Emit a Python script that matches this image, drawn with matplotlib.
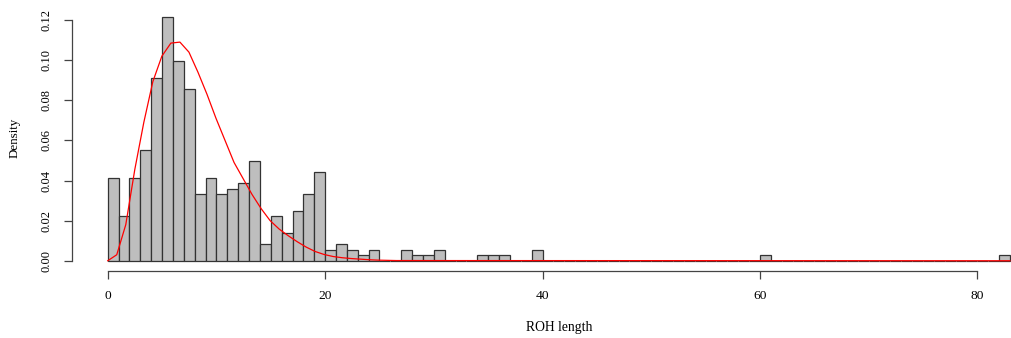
import matplotlib

matplotlib.use("Agg")

import matplotlib.pyplot as plt
import numpy as np
from matplotlib.ticker import FormatStrFormatter

plt.rcParams["font.family"] = ["Liberation Serif", "DejaVu Serif"]

# ROH length histogram: counts per 1-unit bin (left edge -> count), n = 362
bin_left = [0, 1, 2, 3, 4, 5, 6, 7, 8, 9, 10, 11, 12, 13, 14, 15, 16, 17, 18, 19,
            20, 21, 22, 23, 24, 27, 28, 29, 30, 34, 35, 36, 39, 60, 82]
counts = [15, 8, 15, 20, 33, 44, 36, 31, 12, 15, 12, 13, 14, 18, 3, 8, 5, 9, 12, 16,
          2, 3, 2, 1, 2, 2, 1, 1, 2, 1, 1, 1, 2, 1, 1]
bin_edges = np.arange(0, 84)

# fitted density curve
curve_x = [0, 0.83, 1.66, 2.49, 3.32, 4.15, 4.98, 5.81, 6.64, 7.47, 8.30, 9.13,
           9.96, 10.79, 11.62, 12.45, 13.28, 14.11, 14.94, 15.77, 16.60, 17.43,
           18.26, 19.09, 19.92, 20.75, 21.58, 22.41, 23.24, 24.07, 24.90, 25.73,
           26.56, 83]
curve_y = [0, 0.003, 0.018, 0.0455, 0.069, 0.0893, 0.102, 0.1085, 0.109, 0.104,
           0.094, 0.083, 0.071, 0.060, 0.049, 0.041, 0.033, 0.026, 0.020, 0.0158,
           0.0125, 0.0095, 0.0068, 0.0046, 0.0031, 0.0021, 0.0015, 0.0011, 0.0008,
           0.0005, 0.0003, 0.0002, 0.0001, 0]

x_ticks = [0, 20, 40, 60, 80]
y_ticks = [0.00, 0.02, 0.04, 0.06, 0.08, 0.10, 0.12]

fig = plt.figure(figsize=(10.12, 3.38), dpi=100)
# plot region runs past the right edge, like the cropped original
ax = fig.add_axes([0.0708, 0.1997, 0.9628, 0.779])

ax.hist(bin_left, bins=bin_edges, weights=counts, density=True,
        color="#bebebe", edgecolor="#333333", linewidth=0.9)
ax.plot(curve_x, curve_y, color="red", linewidth=0.9)

ax.set_xlim(-3.32, 86.32)
ax.set_ylim(-0.00486, 0.1264)

for side in ("top", "right"):
    ax.spines[side].set_visible(False)
for side in ("left", "bottom"):
    ax.spines[side].set_color("#444444")
    ax.spines[side].set_linewidth(0.9)
ax.spines["bottom"].set_bounds(0, 80)
ax.spines["left"].set_bounds(0, 0.12)

ax.set_xticks(x_ticks)
ax.set_yticks(y_ticks)
ax.yaxis.set_major_formatter(FormatStrFormatter("%.2f"))
ax.tick_params(axis="both", length=6, width=0.9, color="#444444")
ax.tick_params(axis="x", pad=8, labelsize=9.7)
ax.tick_params(axis="y", pad=8, labelsize=9.0)
for lab in ax.get_yticklabels():
    lab.set_rotation(90)
    lab.set_va("center")

fig.text(559 / 1012, 1 - 328 / 338, "ROH length", ha="center", va="center", fontsize=9.8)
fig.text(15 / 1012, 1 - 138 / 338, "Density", ha="center", va="center",
         rotation=90, fontsize=9.4)

fig.savefig("out.png", dpi=100)
